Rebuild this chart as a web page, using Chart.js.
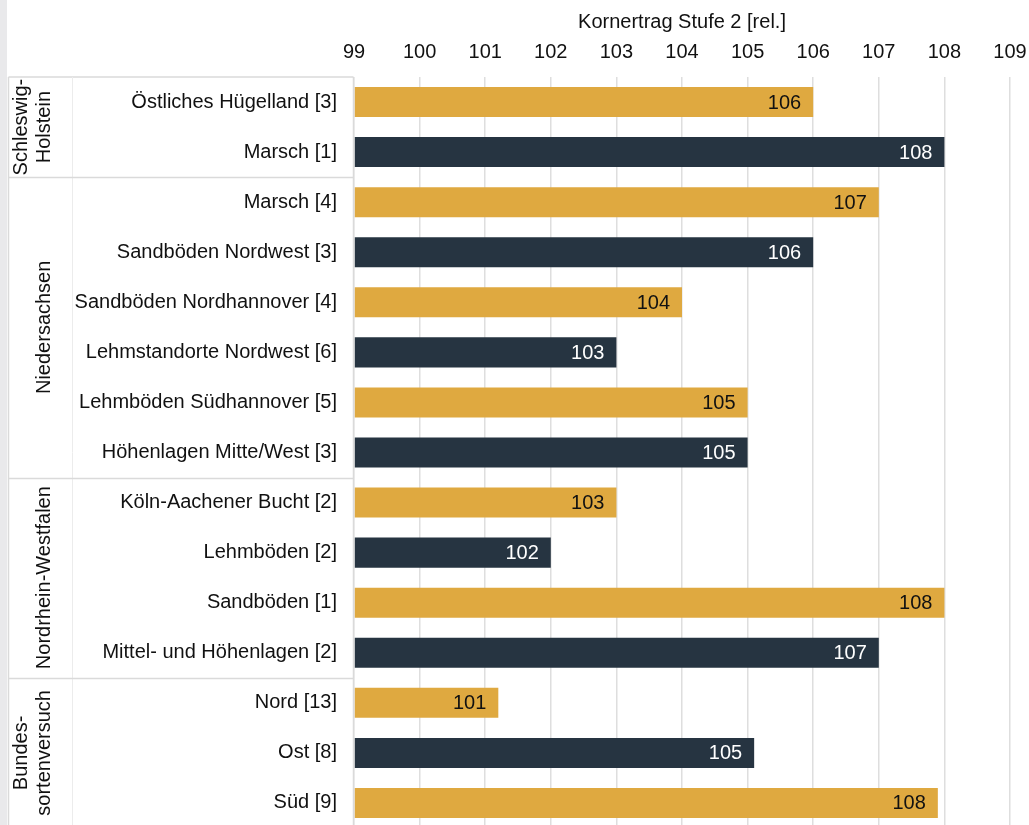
<!DOCTYPE html>
<html>
<head>
<meta charset="utf-8">
<script src="https://cdn.jsdelivr.net/npm/chart.js@4"></script>
<style>
  html, body { margin: 0; padding: 0; overflow: hidden; background: #fff; }
  canvas { display: block; }
</style>
</head>
<body>
<canvas id="chart" width="1029" height="828"></canvas>
<script>
const categories = [
  'Östliches Hügelland [3]', 'Marsch [1]',
  'Marsch [4]', 'Sandböden Nordwest [3]', 'Sandböden Nordhannover [4]',
  'Lehmstandorte Nordwest [6]', 'Lehmböden Südhannover [5]', 'Höhenlagen Mitte/West [3]',
  'Köln-Aachener Bucht [2]', 'Lehmböden [2]', 'Sandböden [1]', 'Mittel- und Höhenlagen [2]',
  'Nord [13]', 'Ost [8]', 'Süd [9]'
];
const values = [106.0, 108.0, 107.0, 106.0, 104.0, 103.0, 105.0, 105.0, 103.0, 102.0, 108.0, 107.0, 101.2, 105.1, 107.9];
const groupNames = [['Schleswig-', 'Holstein'], ['Niedersachsen'], ['Nordrhein-Westfalen'], ['Bundes-', 'sortenversuch']];
const groupSizes = [2, 6, 4, 3];
const axisTitle = 'Kornertrag Stufe 2 [rel.]';

const GOLD = '#dfa940';
const DARK = '#263441';
const FONT = "'Liberation Sans', Arial, Helvetica, sans-serif";
const LINE = '#dadada';

const groupPlugin = {
  id: 'groups',
  afterDraw(chart) {
    const ctx = chart.ctx;
    const area = chart.chartArea;
    const y = chart.scales.y;
    const left = 8.5, mid = 72.5, right = 353.5;
    ctx.save();
    ctx.fillStyle = '#e9e9eb';
    ctx.fillRect(0, 0, 7, chart.height);
    ctx.strokeStyle = LINE;
    ctx.lineWidth = 1.5;
    ctx.beginPath();
    ctx.moveTo(left, area.top); ctx.lineTo(right, area.top);
    ctx.moveTo(left, area.top); ctx.lineTo(left, area.bottom);
    ctx.moveTo(right, area.top); ctx.lineTo(right, area.bottom);
    ctx.stroke();
    ctx.lineWidth = 1;
    ctx.strokeStyle = '#ececec';
    ctx.beginPath();
    ctx.moveTo(mid, area.top); ctx.lineTo(mid, area.bottom);
    ctx.stroke();

    let start = 0;
    groupSizes.forEach((n, gi) => {
      const end = start + n;
      const top = start === 0 ? area.top : (y.getPixelForValue(start - 1) + y.getPixelForValue(start)) / 2;
      const bottom = end >= categories.length ? area.bottom : (y.getPixelForValue(end - 1) + y.getPixelForValue(end)) / 2;
      if (end < categories.length) {
        ctx.strokeStyle = LINE;
        ctx.lineWidth = 1.5;
        ctx.beginPath();
        ctx.moveTo(left, Math.round(bottom) + 0.5);
        ctx.lineTo(right, Math.round(bottom) + 0.5);
        ctx.stroke();
      }
      const lines = groupNames[gi];
      const cy = (top + bottom) / 2;
      ctx.save();
      ctx.translate(44, cy);
      ctx.rotate(-Math.PI / 2);
      ctx.fillStyle = '#111';
      ctx.font = '20px ' + FONT;
      ctx.textAlign = 'center';
      ctx.textBaseline = 'middle';
      lines.forEach((t, li) => {
        ctx.fillText(t, 0, -(lines.length - 1 - li) * 23);
      });
      ctx.restore();
      start = end;
    });
    ctx.restore();
  }
};

const valuePlugin = {
  id: 'values',
  afterDatasetsDraw(chart) {
    const ctx = chart.ctx;
    const meta = chart.getDatasetMeta(0);
    ctx.save();
    ctx.font = '20px ' + FONT;
    ctx.textAlign = 'right';
    ctx.textBaseline = 'middle';
    meta.data.forEach((bar, i) => {
      ctx.fillStyle = i % 2 === 0 ? '#111' : '#fff';
      ctx.fillText(String(Math.round(values[i])), bar.x - 12, bar.y + 1);
    });
    ctx.restore();
  }
};

new Chart(document.getElementById('chart'), {
  type: 'bar',
  data: {
    labels: categories,
    datasets: [{
      data: values,
      backgroundColor: values.map((v, i) => i % 2 === 0 ? GOLD : DARK),
      barPercentage: 0.6,
      categoryPercentage: 1.0,
      base: 99
    }]
  },
  options: {
    indexAxis: 'y',
    responsive: false,
    animation: false,
    layout: { padding: { left: 0, right: 19, top: 0, bottom: 0 } },
    plugins: { legend: { display: false }, tooltip: { enabled: false } },
    scales: {
      x: {
        position: 'top',
        min: 99,
        max: 109,
        ticks: { stepSize: 1, color: '#111', font: { size: 20, family: FONT }, padding: 13, maxRotation: 0 },
        grid: { color: '#dedede', lineWidth: 1.5, drawTicks: false },
        border: { display: false },
        title: { display: true, text: axisTitle, color: '#111', font: { size: 20, family: FONT }, padding: { top: 10, bottom: 0 } },
        afterFit(scale) {
          scale.height = 77;
          scale.paddingLeft = 0;
          scale.paddingRight = 0;
        }
      },
      y: {
        ticks: { color: '#111', font: { size: 20, family: FONT }, padding: 17 },
        grid: { display: false, drawTicks: false },
        border: { display: false },
        afterFit(scale) {
          scale.width = 354;
          scale.paddingTop = 0;
          scale.paddingBottom = 0;
        }
      }
    }
  },
  plugins: [groupPlugin, valuePlugin]
});
</script>
</body>
</html>
